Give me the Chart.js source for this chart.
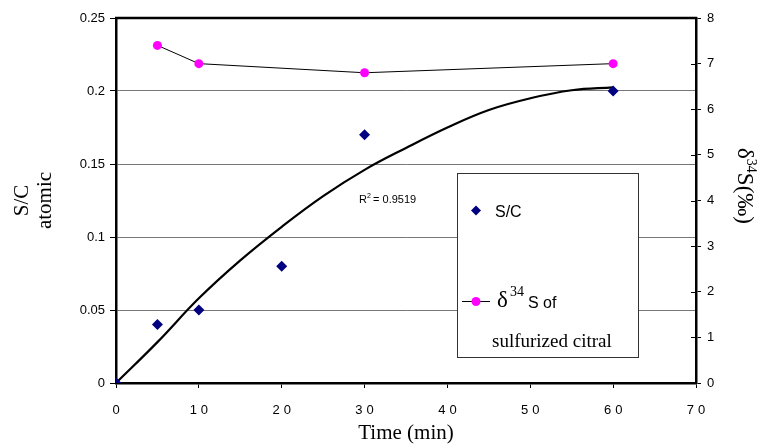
<!DOCTYPE html>
<html>
<head>
<meta charset="utf-8">
<title>S/C and d34S vs time</title>
<script src="https://cdn.jsdelivr.net/npm/chart.js@4/dist/chart.umd.min.js"></script>
<style>
  body { margin: 0; background: #fff; }
  .wrap { width: 761px; height: 448px; }
</style>
</head>
<body>
<div class="wrap"><canvas id="myChart" width="761" height="448"></canvas></div>
<script>
// data
const scTime = [0, 5, 10, 20, 30, 60];
const scValues = [0, 0.04, 0.05, 0.08, 0.17, 0.2];

const trendTime = [0, 5, 10, 15, 20, 25, 30, 35, 40, 45, 50, 55, 60];
const trendValues = [0, 0.028, 0.058, 0.084, 0.107, 0.128, 0.146, 0.161, 0.175, 0.187, 0.195, 0.2005, 0.2025];

const deltaTime = [5, 10, 30, 60];
const deltaValues = [7.4, 7.0, 6.8, 7.0];

const xTicks = [0, 10, 20, 30, 40, 50, 60, 70];
const leftTicks = [0, 0.05, 0.1, 0.15, 0.2, 0.25];
const rightTicks = [0, 1, 2, 3, 4, 5, 6, 7, 8];

const toPts = (xs, ys) => xs.map((x, i) => ({x: x, y: ys[i]}));

// x tick labels are letter-spaced in the original
const spacedX = {
  id: 'spacedX',
  beforeDraw(chart) {
    const sx = chart.scales.x;
    if (sx._spaced) return;
    const orig = sx.drawLabels.bind(sx);
    sx.drawLabels = function (area) {
      const c = this.ctx;
      c.save();
      c.letterSpacing = '4px';
      c.translate(2, 0);
      orig(area);
      c.restore();
    };
    sx._spaced = true;
  }
};

// frame, cross ticks on right axis, titles, R2 label and the boxed legend
const extras = {
  id: 'extras',
  afterDraw(chart) {
    const ctx = chart.ctx;
    const a = chart.chartArea;
    ctx.save();
    // top frame line
    ctx.strokeStyle = '#000';
    ctx.lineWidth = 2.5;
    ctx.beginPath();
    ctx.moveTo(a.left - 1, a.top);
    ctx.lineTo(a.right + 1, a.top);
    ctx.stroke();

    // right axis ticks also go inward
    const y2 = chart.scales.y2;
    ctx.lineWidth = 1;
    rightTicks.forEach(v => {
      const py = Math.round(y2.getPixelForValue(v)) + 0.5;
      ctx.beginPath();
      ctx.moveTo(a.right - 5, py);
      ctx.lineTo(a.right, py);
      ctx.stroke();
    });

    ctx.fillStyle = '#000';
    // left title, two lines
    ctx.save();
    ctx.translate(22, (a.top + a.bottom) / 2);
    ctx.rotate(-Math.PI / 2);
    ctx.font = '21px "Liberation Serif"';
    ctx.textAlign = 'center';
    ctx.textBaseline = 'middle';
    ctx.fillText('S/C', 0, 0);
    ctx.fillText('atomic', 0, 23);
    ctx.restore();

    // bottom title
    ctx.font = '21px "Liberation Serif"';
    ctx.textAlign = 'center';
    ctx.textBaseline = 'middle';
    ctx.fillText('Time (min)', (a.left + a.right) / 2, 433);

    // right title, rotated clockwise
    ctx.save();
    ctx.translate(738, 148);
    ctx.rotate(Math.PI / 2);
    ctx.textAlign = 'left';
    ctx.textBaseline = 'alphabetic';
    ctx.font = '23px "Liberation Serif"';
    let w = ctx.measureText('\u03B4').width;
    ctx.fillText('\u03B4', 0, 0);
    ctx.font = '14px "Liberation Serif"';
    ctx.fillText('34', w, -9);
    w += ctx.measureText('34').width;
    ctx.font = '23px "Liberation Serif"';
    ctx.fillText('S(\u2030)', w, 0);
    ctx.restore();

    // R squared
    ctx.textAlign = 'left';
    ctx.textBaseline = 'alphabetic';
    ctx.font = '11px "Liberation Sans"';
    ctx.fillText('R', 359, 203);
    ctx.font = '7px "Liberation Sans"';
    ctx.fillText('2', 367, 198);
    ctx.font = '11px "Liberation Sans"';
    ctx.fillText(' = 0.9519', 370, 203);

    // legend box
    ctx.fillStyle = '#fff';
    ctx.fillRect(457, 173, 181, 184);
    ctx.strokeStyle = '#333';
    ctx.lineWidth = 1;
    ctx.strokeRect(457.5, 173.5, 181, 184);

    // S/C entry
    ctx.fillStyle = '#000080';
    ctx.beginPath();
    ctx.moveTo(476, 205.5);
    ctx.lineTo(481, 210.5);
    ctx.lineTo(476, 215.5);
    ctx.lineTo(471, 210.5);
    ctx.closePath();
    ctx.fill();
    ctx.fillStyle = '#000';
    ctx.font = '16px "Liberation Sans"';
    ctx.fillText('S/C', 495, 217);

    // delta entry
    ctx.strokeStyle = '#000';
    ctx.beginPath();
    ctx.moveTo(462, 301.5);
    ctx.lineTo(490, 301.5);
    ctx.stroke();
    ctx.fillStyle = '#ff00ff';
    ctx.beginPath();
    ctx.arc(476, 301.5, 4.5, 0, Math.PI * 2);
    ctx.fill();
    ctx.fillStyle = '#000';
    ctx.font = '23px "Liberation Serif"';
    ctx.fillText('\u03B4', 497, 307);
    ctx.font = '14px "Liberation Serif"';
    ctx.fillText('34', 510, 296);
    ctx.font = '16px "Liberation Sans"';
    ctx.fillText('S of', 528, 308);
    ctx.font = '19px "Liberation Serif"';
    ctx.fillText('sulfurized citral', 492, 347);
    ctx.restore();
  }
};

const fmt = v => String(+Number(v).toFixed(2));

const ctx = document.getElementById('myChart').getContext('2d');
const chart = new Chart(ctx, {
  type: 'scatter',
  data: {
    datasets: [
      {
        label: 'S/C',
        data: toPts(scTime, scValues),
        yAxisID: 'y',
        showLine: false,
        pointStyle: 'rectRot',
        pointRadius: 5.5,
        backgroundColor: '#000080',
        borderColor: '#000080',
        borderWidth: 0
      },
      {
        label: 'trend',
        data: toPts(trendTime, trendValues),
        yAxisID: 'y',
        showLine: true,
        pointRadius: 0,
        borderColor: '#000',
        borderWidth: 2.2,
        tension: 0.4
      },
      {
        label: 'd34S of sulfurized citral',
        data: toPts(deltaTime, deltaValues),
        yAxisID: 'y2',
        showLine: true,
        borderColor: '#000',
        borderWidth: 1,
        pointRadius: 4.5,
        pointBackgroundColor: '#ff00ff',
        pointBorderWidth: 0
      }
    ]
  },
  options: {
    responsive: false,
    animation: false,
    layout: { padding: { top: 18, left: 0, right: 0, bottom: 0 } },
    plugins: { legend: { display: false }, tooltip: { enabled: false } },
    scales: {
      x: {
        type: 'linear',
        min: 0, max: 70,
        afterFit: s => { s.height = 65; },
        afterBuildTicks: s => { s.ticks = xTicks.map(v => ({value: v})); },
        grid: { drawOnChartArea: false, tickLength: 5, tickColor: '#000' },
        border: { color: '#000', width: 2.5 },
        ticks: { color: '#000', padding: 15, maxRotation: 0, font: { family: 'Liberation Sans', size: 13 } }
      },
      y: {
        position: 'left',
        min: 0, max: 0.25,
        afterFit: s => { s.width = 116; },
        afterBuildTicks: s => { s.ticks = leftTicks.map(v => ({value: v})); },
        grid: {
          color: c => (c.tick && c.tick.value > 0 && c.tick.value < 0.25) ? '#777' : 'rgba(0,0,0,0)',
          tickColor: '#000',
          tickLength: 6
        },
        border: { color: '#000', width: 2.5 },
        ticks: { color: '#000', padding: 5, callback: fmt, font: { family: 'Liberation Sans', size: 13 } }
      },
      y2: {
        position: 'right',
        min: 0, max: 8,
        afterFit: s => { s.width = 65; },
        afterBuildTicks: s => { s.ticks = rightTicks.map(v => ({value: v})); },
        grid: { drawOnChartArea: false, tickColor: '#000', tickLength: 5 },
        border: { color: '#000', width: 2.5 },
        ticks: { color: '#000', padding: 6, font: { family: 'Liberation Sans', size: 13 } }
      }
    }
  },
  plugins: [spacedX, extras]
});
</script>
</body>
</html>
